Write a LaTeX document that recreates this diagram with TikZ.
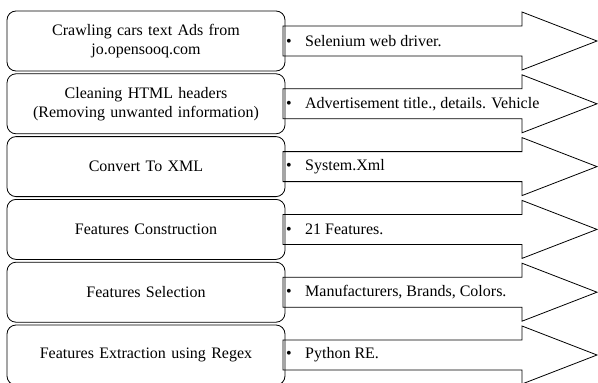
\documentclass[tikz,border=0pt]{standalone}
\usepackage{fontspec}
\setmainfont{Liberation Serif}
\usetikzlibrary{positioning}

\begin{document}
\begin{tikzpicture}[x=1pt,y=-1pt,
  stage/.style={draw,line width=0.8pt,rounded corners=9pt,minimum width=278pt,minimum height=60pt,text width=266pt,align=center,inner sep=0pt,font=\fontsize{16}{19}\selectfont},
  tool/.style={anchor=west,inner sep=0pt,font=\fontsize{16}{19}\selectfont},
  flow/.style={draw,line width=0.8pt,fill=white,line join=miter}]
\useasboundingbox (0,0) rectangle (598,383);
\clip (0,0) rectangle (598,383);
\foreach \i/\s/\t in {1/{Crawling cars text Ads from\\jo.opensooq.com}/{Selenium web driver.},
  2/{Cleaning HTML headers\\(Removing unwanted information)}/{Advertisement title., details. Vehicle},
  3/{Convert To XML}/{System.Xml},
  4/{Features Construction}/{21 Features.},
  5/{Features Selection}/{Manufacturers, Brands, Colors.},
  6/{Features Extraction using Regex}/{Python RE.}} {
  \pgfmathsetmacro{\c}{41+62.8*(\i-1)}
  \draw[flow] (283,\c-15) -- (522,\c-15) -- (522,\c-29) -- (597,\c) -- (522,\c+29) -- (522,\c+15) -- (283,\c+15) -- cycle;
  \node[stage] (s\i) at (146,\c) {\s};
  \node[tool] (t\i) at (286,\c) {\makebox[19pt][l]{\textbullet}\t};
}
\end{tikzpicture}
\end{document}
